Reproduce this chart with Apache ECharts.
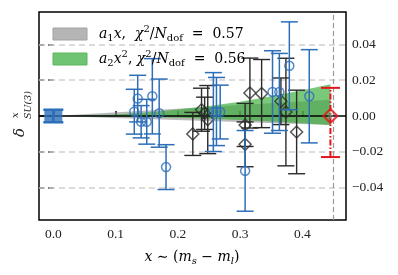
<!DOCTYPE html>
<html><head><meta charset="utf-8">
<script src="https://cdn.jsdelivr.net/npm/echarts@6/dist/echarts.min.js"></script>
<style>html,body{margin:0;padding:0;background:#fff}#c{width:398px;height:275px}</style>
</head><body><div id="c"></div>
<script>
// ---- data ----
const xTicks = [0.0, 0.1, 0.2, 0.3, 0.4];
const yTicks = [-0.04, -0.02, 0.0, 0.02, 0.04];
const xMark = 0.447;

// blue circles
const blueX   = [0.1355, 0.130, 0.141, 0.150, 0.159, 0.170, 0.181, 0.257, 0.262, 0.268, 0.308, 0.352, 0.363, 0.379, 0.411];
const blueY   = [0.0097, 0.0024, -0.0032, -0.0032, 0.011, 0.0016, -0.0285, 0.0022, 0.0025, 0.0022, -0.0306, 0.0134, 0.0134, 0.0280, 0.011];
const blueErr = [0.013, 0.0125, 0.009, 0.0125, 0.021, 0.019, 0.0125, 0.022, 0.019, 0.015, 0.0225, 0.023, 0.0215, 0.0245, 0.026];

// black diamonds
const blackX   = [0.224, 0.238, 0.243, 0.248, 0.308, 0.308, 0.3157, 0.3345, 0.3655, 0.3735, 0.3907];
const blackY   = [-0.0100, 0.0035, 0.0015, -0.002, -0.0050, -0.0158, 0.0128, 0.0125, 0.0082, 0.0022, -0.0089];
const blackErr = [0.012, 0.012, 0.009, 0.019, 0.012, 0.0125, 0.0195, 0.019, 0.013, 0.030, 0.0233];

// blue square at x = 0
const sqX = [0.0], sqY = [0.0], sqErr = [0.0035];

// red point (asymmetric errors)
const redX = [0.445], redY = [0.0], redErrHi = [0.0157], redErrLo = [0.0229];

// fit bands
const grayBandX  = [0.0, 0.445];
const grayBandLo = [0.0, -0.005];
const grayBandHi = [0.0, 0.009];
const greenBandX  = [0.0, 0.05, 0.1, 0.15, 0.2, 0.25, 0.3, 0.35, 0.4, 0.445];
const greenBandLo = [0.0, -0.00006, -0.00025, -0.00057, -0.001, -0.0016, -0.0023, -0.0031, -0.004, -0.005];
const greenBandHi = [0.0, 0.00022, 0.0009, 0.002, 0.0036, 0.0056, 0.008, 0.011, 0.0143, 0.0177];

// ---- helpers ----
const FONT = 'Liberation Serif';
const TFONT = 'DejaVu Serif';
const BLUE = '#2d6eb9', BLACK = '#2a2a2a', RED = '#e3141b';

function band(xs, lo, hi, fill, z) {
  return {
    type: 'custom', z: z, silent: true, clip: true,
    data: xs.map((x, i) => [x, lo[i], hi[i]]),
    encode: { x: 0, y: [1, 2] },
    renderItem(params, api) {
      if (params.dataIndex !== 0) return;
      const pts = [];
      for (let i = 0; i < xs.length; i++) pts.push(api.coord([xs[i], hi[i]]));
      for (let i = xs.length - 1; i >= 0; i--) pts.push(api.coord([xs[i], lo[i]]));
      return { type: 'polygon', shape: { points: pts }, style: { fill: fill } };
    }
  };
}

function errbars(xs, ys, errLo, errHi, color, cap, lw, dash, z) {
  return {
    type: 'custom', z: z, silent: true, clip: true,
    data: xs.map((x, i) => [x, ys[i] - errLo[i], ys[i] + errHi[i]]),
    encode: { x: 0, y: [1, 2] },
    renderItem(params, api) {
      const x = api.value(0);
      const a = api.coord([x, api.value(1)]);
      const b = api.coord([x, api.value(2)]);
      const h = cap / 2;
      return { type: 'group', children: [
        { type: 'line', shape: { x1: a[0], y1: a[1], x2: b[0], y2: b[1] }, style: { stroke: color, lineWidth: lw, lineDash: dash || null } },
        { type: 'line', shape: { x1: a[0] - h, y1: a[1], x2: a[0] + h, y2: a[1] }, style: { stroke: color, lineWidth: lw } },
        { type: 'line', shape: { x1: b[0] - h, y1: b[1], x2: b[0] + h, y2: b[1] }, style: { stroke: color, lineWidth: lw } }
      ]};
    }
  };
}

const chart = echarts.init(document.getElementById('c'), null, { renderer: 'canvas' });
const labelFmtY = v => (v < 0 ? '\u2212' : '') + Math.abs(v).toFixed(2);

const richBase = {
  n: { fontFamily: TFONT, fontSize: 14, lineHeight: 19, color: '#222' },
  i: { fontFamily: TFONT, fontSize: 14, fontStyle: 'italic', lineHeight: 19, color: '#222' },
  sub: { fontFamily: TFONT, fontSize: 10, fontStyle: 'italic', lineHeight: 10, verticalAlign: 'bottom', color: '#222' },
  subn: { fontFamily: TFONT, fontSize: 10, lineHeight: 10, verticalAlign: 'bottom', color: '#222' },
  sup: { fontFamily: TFONT, fontSize: 10, lineHeight: 10, verticalAlign: 'top', color: '#222' }
};

chart.setOption({
  animation: false,
  grid: { left: 39, right: 52, top: 12, bottom: 55, show: true, borderColor: '#000', borderWidth: 1.5, backgroundColor: 'transparent' },
  xAxis: {
    type: 'value', min: -0.023, max: 0.47,
    axisLine: { show: false },
    splitLine: { show: false },
    axisTick: { show: true, inside: true, length: 5, customValues: xTicks, lineStyle: { color: '#000', width: 1.5 } },
    axisLabel: { customValues: xTicks, formatter: v => v.toFixed(1), fontFamily: FONT, fontSize: 13.5, color: '#222', margin: 7 }
  },
  yAxis: [{
    type: 'value', min: -0.058, max: 0.058, position: 'right',
    axisLine: { show: false },
    splitLine: { show: false },
    axisTick: { show: true, inside: true, length: 5, customValues: yTicks, lineStyle: { color: '#000', width: 1.5 } },
    axisLabel: { customValues: yTicks, formatter: labelFmtY, fontFamily: FONT, fontSize: 13.5, color: '#222', margin: 6 }
  }, {
    type: 'value', min: -0.058, max: 0.058, position: 'left',
    axisLine: { show: false }, splitLine: { show: false },
    axisTick: { show: true, inside: true, length: 5, customValues: yTicks, lineStyle: { color: '#000', width: 1.5 } },
    axisLabel: { show: false }
  }],
  series: [
    { type: 'scatter', data: [], z: 1, silent: true,
      markLine: { silent: true, symbol: 'none', label: { show: false },
        lineStyle: { color: '#cfcfcf', type: [6, 4], width: 1.5 },
        data: yTicks.filter(v => v !== 0).map(v => ({ yAxis: v })).concat([{ xAxis: xMark, lineStyle: { color: '#999', type: [5, 3], width: 1.2 } }]) } },
    band(grayBandX, grayBandLo, grayBandHi, 'rgba(140,140,140,0.6)', 2),
    band(greenBandX, greenBandLo, greenBandHi, 'rgba(50,170,50,0.65)', 3),
    { type: 'scatter', data: [], z: 4, silent: true,
      markLine: { silent: true, symbol: 'none', label: { show: false },
        lineStyle: { color: '#000', type: 'solid', width: 1.5 }, data: [{ yAxis: 0 }] } },
    errbars(blackX, blackY, blackErr, blackErr, BLACK, 17, 1.4, null, 5),
    { type: 'scatter', z: 6, silent: true, symbol: 'diamond', symbolSize: 12,
      itemStyle: { color: 'rgba(0,0,0,0)', borderColor: BLACK, borderWidth: 1.5 },
      data: blackX.map((x, i) => [x, blackY[i]]) },
    errbars(blueX, blueY, blueErr, blueErr, BLUE, 17, 1.5, null, 7),
    { type: 'scatter', z: 8, silent: true, symbol: 'circle', symbolSize: 9,
      itemStyle: { color: 'rgba(0,0,0,0)', borderColor: BLUE, borderWidth: 1.5 },
      data: blueX.map((x, i) => [x, blueY[i]]) },
    errbars(sqX, sqY, sqErr, sqErr, BLUE, 20, 2.5, null, 9),
    { type: 'scatter', z: 9, silent: true, symbol: 'rect', symbolSize: [18, 10],
      itemStyle: { color: BLUE }, data: sqX.map((x, i) => [x, sqY[i]]) },
    errbars(redX, redY, redErrLo, redErrHi, RED, 19, 2, [6, 2, 1.5, 2], 10),
    { type: 'scatter', z: 11, silent: true, symbol: 'diamond', symbolSize: 14,
      itemStyle: { color: 'rgba(0,0,0,0)', borderColor: RED, borderWidth: 2.2 },
      data: redX.map((x, i) => [x, redY[i]]) },
    { type: 'scatter', z: 12, silent: true, symbol: 'path://M4,0H6V4H10V6H6V10H4V6H0V4H4Z', symbolSize: 6,
      itemStyle: { color: '#888' }, data: redX.map((x, i) => [x, redY[i]]) }
  ],
  graphic: [
    { type: 'rect', shape: { x: 53, y: 28, width: 34, height: 12 }, style: { fill: '#b5b5b5', stroke: '#a2a2a2', lineWidth: 1 }, z: 20 },
    { type: 'rect', shape: { x: 53, y: 53, width: 34, height: 12 }, style: { fill: '#6fc473', stroke: '#58b85c', lineWidth: 1 }, z: 20 },
    { type: 'text', x: 99, y: 34, z: 20, style: {
        text: '{i|a}{subn|1}{i|x}{n|,  }{i|\u03c7}{sup|2}{n|/}{i|N}{subn|dof}{n|  =  0.57}',
        verticalAlign: 'middle', rich: richBase } },
    { type: 'text', x: 99, y: 59, z: 20, style: {
        text: '{i|a}{subn|2}{i|x}{sup|2}{n|, }{i|\u03c7}{sup|2}{n|/}{i|N}{subn|dof}{n|  =  0.56}',
        verticalAlign: 'middle', rich: richBase } },
    { type: 'text', x: 192, y: 257, z: 20, style: {
        text: '{i|x}{n| \u223c (}{i|m}{sub|s}{n| \u2212 }{i|m}{sub|l}{n|)}',
        align: 'center', verticalAlign: 'middle', rich: richBase } },
    { type: 'group', x: 23, y: 128, rotation: Math.PI / 2, z: 20, children: [
      { type: 'text', x: -9, y: -3, style: { text: '\u03b4', fontFamily: TFONT, fontSize: 15, fontStyle: 'italic', fill: '#222', verticalAlign: 'middle', align: 'left' } },
      { type: 'text', x: 10, y: -8, style: { text: 'x', fontFamily: TFONT, fontSize: 10, fontStyle: 'italic', fill: '#222', verticalAlign: 'middle', align: 'left' } },
      { type: 'text', x: 9, y: 5.5, style: { text: 'SU(3)', fontFamily: TFONT, fontSize: 9.5, fontStyle: 'italic', fill: '#222', verticalAlign: 'middle', align: 'left' } }
    ]}
  ]
});
</script>
</body></html>
